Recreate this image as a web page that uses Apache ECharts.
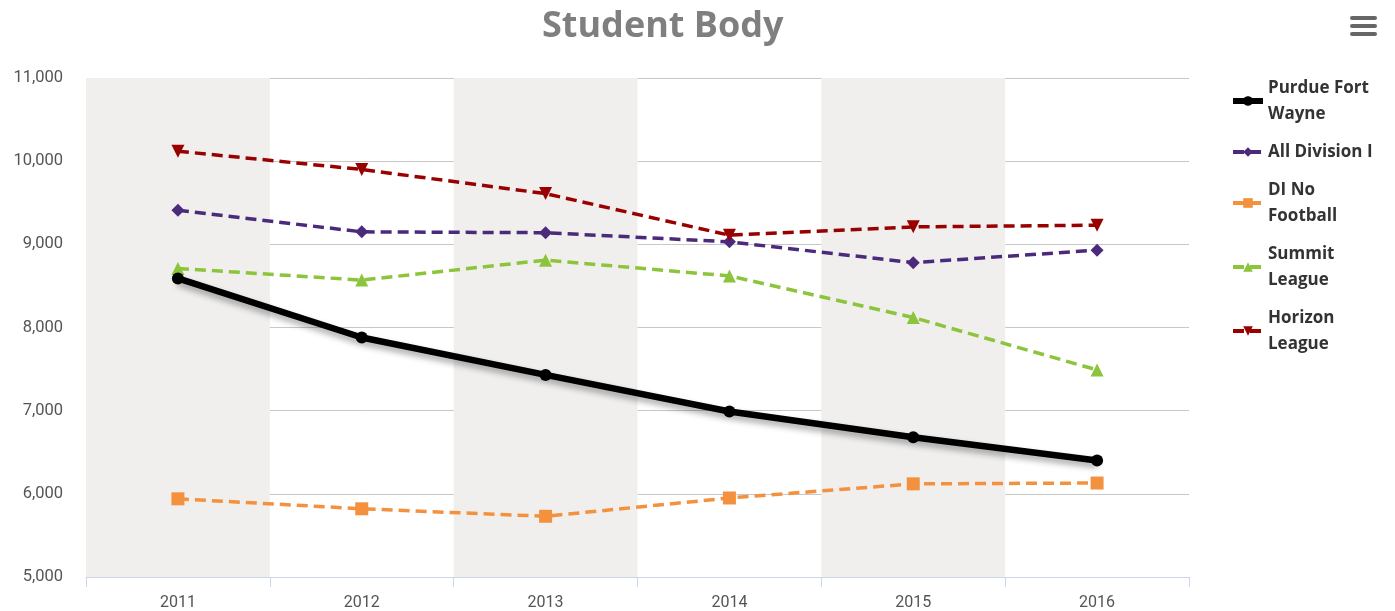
<!DOCTYPE html>
<html>
<head>
<meta charset="utf-8">
<script src="https://cdn.jsdelivr.net/npm/echarts@6/dist/echarts.min.js"></script>
<style>
  html, body { margin: 0; padding: 0; background: #fff; }
  #chart { width: 1395px; height: 611px; }
</style>
</head>
<body>
<div id="chart"></div>
<script>
// 年份
var years = ['2011', '2012', '2013', '2014', '2015', '2016'];

// 各系列数据
var purdueFortWayne = [8590, 7880, 7430, 6990, 6680, 6400];
var allDivisionI = [9410, 9150, 9140, 9030, 8780, 8930];
var diNoFootball = [5940, 5820, 5730, 5950, 6120, 6130];
var summitLeague = [8710, 8570, 8810, 8620, 8120, 7490];
var horizonLeague = [10120, 9900, 9610, 9110, 9210, 9230];

// 图例换行
var legendLabels = {
	'Purdue Fort Wayne': 'Purdue Fort\nWayne',
	'All Division I': 'All Division I',
	'DI No Football': 'DI No\nFootball',
	'Summit League': 'Summit\nLeague',
	'Horizon League': 'Horizon\nLeague'
};

var chart = echarts.init(document.getElementById('chart'));

function dashed(name, data, color, symbol, size) {
	return {
		name: name,
		type: 'line',
		data: data,
		symbol: symbol,
		symbolSize: size,
		itemStyle: { color: color },
		lineStyle: { color: color, width: 3.5, type: [11, 6] },
		emphasis: { disabled: true },
		z: 3
	};
}

var option = {
	animation: false,
	title: {
		text: 'Student Body',
		left: 537,
		top: 4,
		textStyle: {
			fontFamily: 'Open Sans',
			fontSize: 36,
			fontWeight: 'bold',
			color: '#7f7f7f'
		}
	},
	legend: {
		orient: 'vertical',
		left: 1225,
		top: 70,
		itemWidth: 30,
		itemHeight: 12,
		itemGap: 12,
		formatter: function(name) { return legendLabels[name] || name; },
		textStyle: {
			fontFamily: 'Open Sans',
			fontSize: 17,
			fontWeight: 'bold',
			color: '#333',
			lineHeight: 26
		},
		data: [
			{ name: 'Purdue Fort Wayne', lineStyle: { width: 6 } },
			{ name: 'All Division I', lineStyle: { width: 4 } },
			{ name: 'DI No Football', lineStyle: { width: 4 } },
			{ name: 'Summit League', lineStyle: { width: 4 } },
			{ name: 'Horizon League', lineStyle: { width: 4 } }
		]
	},
	grid: {
		left: 86,
		right: 206,
		top: 78,
		bottom: 34
	},
	xAxis: {
		type: 'category',
		data: years,
		boundaryGap: true,
		axisLine: { lineStyle: { color: '#ccd6eb' } },
		axisTick: { show: true, length: 10, lineStyle: { color: '#ccd6eb' } },
		axisLabel: { fontFamily: 'Roboto', fontSize: 16, color: '#555', margin: 18 },
		splitArea: { show: true, areaStyle: { color: ['#f0efee', 'rgba(255,255,255,0)'] } }
	},
	yAxis: {
		type: 'value',
		min: 5000,
		max: 11000,
		interval: 1000,
		axisLine: { show: false },
		axisTick: { show: false },
		axisLabel: {
			fontFamily: 'Roboto',
			fontSize: 16.5,
			color: '#555',
			margin: 23,
			formatter: function(v) { return v.toLocaleString('en-US'); }
		},
		splitLine: { lineStyle: { color: '#c8c8c8', width: 1 } }
	},
	graphic: [
		{ type: 'rect', left: 1350, top: 16, shape: { width: 27, height: 4, r: 2 }, style: { fill: '#666' } },
		{ type: 'rect', left: 1350, top: 24, shape: { width: 27, height: 4, r: 2 }, style: { fill: '#666' } },
		{ type: 'rect', left: 1350, top: 32, shape: { width: 27, height: 4, r: 2 }, style: { fill: '#666' } }
	],
	series: [
		{
			name: 'Purdue Fort Wayne',
			type: 'line',
			data: purdueFortWayne,
			symbol: 'circle',
			symbolSize: 12,
			itemStyle: { color: '#000' },
			lineStyle: {
				color: '#000',
				width: 6.5,
				shadowColor: 'rgba(0,0,0,0.35)',
				shadowBlur: 6,
				shadowOffsetY: 4
			},
			emphasis: { disabled: true },
			z: 4
		},
		dashed('All Division I', allDivisionI, '#4b2a7b', 'diamond', 13),
		dashed('DI No Football', diNoFootball, '#f3913f', 'rect', 13),
		dashed('Summit League', summitLeague, '#8cc43c', 'triangle', 13),
		Object.assign(dashed('Horizon League', horizonLeague, '#990000', 'triangle', 13), { symbolRotate: 180 })
	]
};

chart.setOption(option);
</script>
</body>
</html>
